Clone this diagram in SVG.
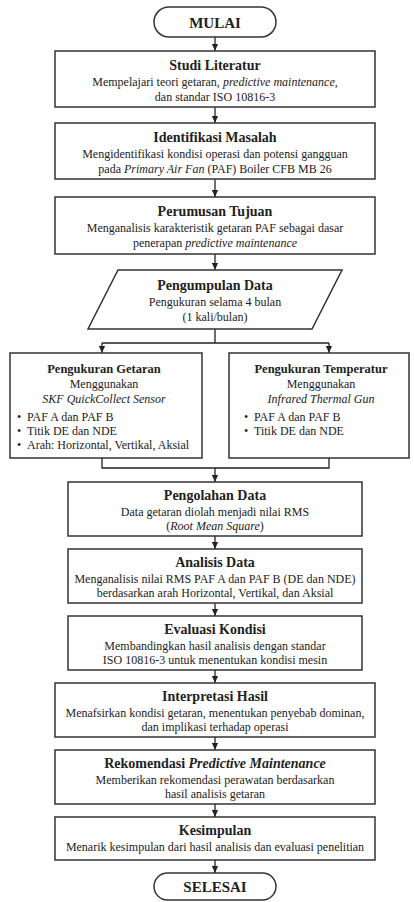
<svg xmlns="http://www.w3.org/2000/svg" width="414" height="902" viewBox="0 0 414 902">
<style>
.bx{fill:#fff;stroke:#333;stroke-width:1.5}
.ln{fill:none;stroke:#222;stroke-width:1.3}
text{font-family:"Liberation Serif","Times New Roman",serif;fill:#222}
.t{font-size:14px;font-weight:bold;text-anchor:middle}
.ts{font-size:12.5px;font-weight:bold;text-anchor:middle}
.tt{font-size:15px;font-weight:bold;text-anchor:middle}
.b{font-size:12px;text-anchor:middle}
.bl{font-size:12px}
</style>
<defs>
<marker id="ar" viewBox="0 0 8 8" refX="8" refY="4" markerWidth="7" markerHeight="7" orient="auto" markerUnits="userSpaceOnUse"><path d="M0,0.5 L8,4 L0,7.5 z" fill="#222"/></marker>
</defs>
<rect width="414" height="902" fill="#fff"/>
<g id="connectors">
<path class="ln" d="M215,37 V51" marker-end="url(#ar)"/>
<path class="ln" d="M215,107 V123" marker-end="url(#ar)"/>
<path class="ln" d="M215,179 V197" marker-end="url(#ar)"/>
<path class="ln" d="M215,254 V270" marker-end="url(#ar)"/>
<path class="ln" d="M215,329 V343 M102,343 H329"/>
<path class="ln" d="M102,343 V353" marker-end="url(#ar)"/>
<path class="ln" d="M329,343 V353" marker-end="url(#ar)"/>
<path class="ln" d="M102,458 V468 H329 V458"/>
<path class="ln" d="M215,468 V482" marker-end="url(#ar)"/>
<path class="ln" d="M215,536 V549" marker-end="url(#ar)"/>
<path class="ln" d="M215,603 V616" marker-end="url(#ar)"/>
<path class="ln" d="M215,670 V683" marker-end="url(#ar)"/>
<path class="ln" d="M215,737 V750" marker-end="url(#ar)"/>
<path class="ln" d="M215,804 V817" marker-end="url(#ar)"/>
<path class="ln" d="M215,860 V873" marker-end="url(#ar)"/>
</g>
<g id="mulai">
<rect class="bx" x="154" y="7" width="122" height="30" rx="15"/>
<text class="tt" x="215" y="27.5">MULAI</text>
</g>
<g id="studi">
<rect class="bx" x="55" y="51" width="320" height="56"/>
<text class="t" x="215" y="70">Studi Literatur</text>
<text class="b" x="215" y="86">Mempelajari teori getaran, <tspan font-style="italic">predictive maintenance</tspan>,</text>
<text class="b" x="215" y="101">dan standar ISO 10816-3</text>
</g>
<g id="identifikasi">
<rect class="bx" x="55" y="123" width="320" height="56"/>
<text class="t" x="215" y="142">Identifikasi Masalah</text>
<text class="b" x="215" y="158">Mengidentifikasi kondisi operasi dan potensi gangguan</text>
<text class="b" x="215" y="173">pada <tspan font-style="italic">Primary Air Fan</tspan> (PAF) Boiler CFB MB 26</text>
</g>
<g id="perumusan">
<rect class="bx" x="55" y="197" width="320" height="57"/>
<text class="t" x="215" y="216">Perumusan Tujuan</text>
<text class="b" x="215" y="232">Menganalisis karakteristik getaran PAF sebagai dasar</text>
<text class="b" x="215" y="247">penerapan <tspan font-style="italic">predictive maintenance</tspan></text>
</g>
<g id="pengumpulan">
<polygon class="bx" points="118,270 342,270 312,329 88,329"/>
<text class="t" x="215" y="290">Pengumpulan Data</text>
<text class="b" x="215" y="306">Pengukuran selama 4 bulan</text>
<text class="b" x="215" y="321">(1 kali/bulan)</text>
</g>
<g id="getaran">
<rect class="bx" x="10" y="353" width="192" height="105"/>
<text class="ts" x="104" y="373">Pengukuran Getaran</text>
<text class="b" x="104" y="388">Menggunakan</text>
<text class="b" x="104" y="403" font-style="italic">SKF QuickCollect Sensor</text>
<text class="bl" x="17" y="421">•</text><text class="bl" x="27" y="421">PAF A dan PAF B</text>
<text class="bl" x="17" y="435">•</text><text class="bl" x="27" y="435">Titik DE dan NDE</text>
<text class="bl" x="17" y="449">•</text><text class="bl" x="27" y="449">Arah: Horizontal, Vertikal, Aksial</text>
</g>
<g id="temperatur">
<rect class="bx" x="229" y="353" width="180" height="105"/>
<text class="ts" x="321" y="373">Pengukuran Temperatur</text>
<text class="b" x="321" y="388">Menggunakan</text>
<text class="b" x="321" y="403" font-style="italic">Infrared Thermal Gun</text>
<text class="bl" x="244" y="421">•</text><text class="bl" x="254" y="421">PAF A dan PAF B</text>
<text class="bl" x="244" y="435">•</text><text class="bl" x="254" y="435">Titik DE dan NDE</text>
</g>
<g id="pengolahan">
<rect class="bx" x="68" y="482" width="294" height="54"/>
<text class="t" x="215" y="500">Pengolahan Data</text>
<text class="b" x="215" y="516">Data getaran diolah menjadi nilai RMS</text>
<text class="b" x="215" y="530">(<tspan font-style="italic">Root Mean Square</tspan>)</text>
</g>
<g id="analisis">
<rect class="bx" x="68" y="549" width="294" height="54"/>
<text class="t" x="215" y="567">Analisis Data</text>
<text class="b" x="215" y="583">Menganalisis nilai RMS PAF A dan PAF B (DE dan NDE)</text>
<text class="b" x="215" y="597">berdasarkan arah Horizontal, Vertikal, dan Aksial</text>
</g>
<g id="evaluasi">
<rect class="bx" x="68" y="616" width="294" height="54"/>
<text class="t" x="215" y="634">Evaluasi Kondisi</text>
<text class="b" x="215" y="650">Membandingkan hasil analisis dengan standar</text>
<text class="b" x="215" y="664">ISO 10816-3 untuk menentukan kondisi mesin</text>
</g>
<g id="interpretasi">
<rect class="bx" x="55" y="683" width="320" height="54"/>
<text class="t" x="215" y="701">Interpretasi Hasil</text>
<text class="b" x="215" y="717">Menafsirkan kondisi getaran, menentukan penyebab dominan,</text>
<text class="b" x="215" y="731">dan implikasi terhadap operasi</text>
</g>
<g id="rekomendasi">
<rect class="bx" x="55" y="750" width="320" height="54"/>
<text class="t" x="215" y="768">Rekomendasi <tspan font-style="italic">Predictive Maintenance</tspan></text>
<text class="b" x="215" y="784">Memberikan rekomendasi perawatan berdasarkan</text>
<text class="b" x="215" y="798">hasil analisis getaran</text>
</g>
<g id="kesimpulan">
<rect class="bx" x="55" y="817" width="320" height="43"/>
<text class="t" x="215" y="835">Kesimpulan</text>
<text class="b" x="215" y="851">Menarik kesimpulan dari hasil analisis dan evaluasi penelitian</text>
</g>
<g id="selesai">
<rect class="bx" x="154" y="873" width="122" height="27" rx="13.5"/>
<text class="tt" x="215" y="892">SELESAI</text>
</g>
</svg>
